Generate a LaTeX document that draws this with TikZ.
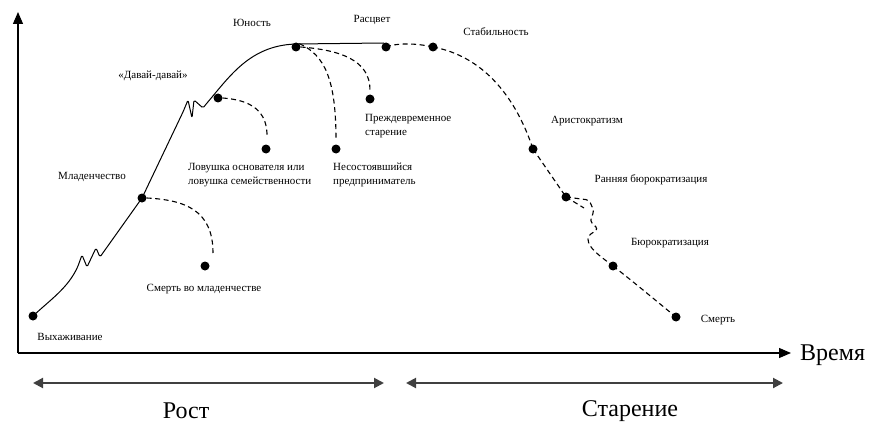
\documentclass[tikz,border=0pt]{standalone}
\usepackage{fontspec}
\setmainfont{Liberation Serif}
\usetikzlibrary{arrows.meta}
\tikzset{
  dot/.style={circle,fill=black,inner sep=0pt,minimum size=9pt},
  lbl/.style={inner sep=0pt,font=\fontsize{11}{14.5}\selectfont},
  lbll/.style={lbl,align=left,anchor=west},
  big/.style={inner sep=0pt,font=\fontsize{24}{28}\selectfont},
  solidcurve/.style={line width=1pt},
  dashcurve/.style={line width=1.1pt,dash pattern=on 5pt off 3.5pt},
  axis/.style={line width=1.1pt,-{Triangle[length=12pt,width=10pt]}},
  span/.style={line width=2pt,draw=black!75,{Triangle[length=10pt,width=10pt]}-{Triangle[length=10pt,width=10pt]}}
}
\begin{document}
\begin{tikzpicture}[x=1pt,y=-1pt]
\useasboundingbox (0,0) rectangle (869,425);
% axes
\coordinate (origin) at (18,353);
\coordinate (ytop) at (18,12);
\coordinate (xend) at (791,353);
\draw[axis] (origin) -- (ytop);
\draw[axis] (origin) -- (xend);
\node[big,anchor=west] (vremya) at (800,355) {Время};
% phase spans
\coordinate (r1) at (33,383);
\coordinate (r2) at (384,383);
\coordinate (s1) at (406,383);
\coordinate (s2) at (783,383);
\draw[span] (r1) -- (r2);
\draw[span] (s1) -- (s2);
\node[big] (rost) at (186,411) {Рост};
\node[big] (star) at (630,411) {Старение};
% dots
\node[dot] (vyh) at (33,316) {};
\node[dot] (mlad) at (142,198) {};
\node[dot] (smmlad) at (205,266) {};
\node[dot] (davai) at (218,98) {};
\node[dot] (lov) at (266,149) {};
\node[dot] (yun) at (296,47) {};
\node[dot] (nesost) at (336,149) {};
\node[dot] (prezh) at (370,99) {};
\node[dot] (rasc) at (386,47) {};
\node[dot] (stab) at (433,47) {};
\node[dot] (arist) at (533,149) {};
\node[dot] (ranbur) at (566,197) {};
\node[dot] (bur) at (613,266) {};
\node[dot] (smert) at (676,317) {};
% labels
\node[lbl] (tvyh) at (70,337) {Выхаживание};
\node[lbl] (tmlad) at (92,177) {Младенчество};
\node[lbl] (tsmmlad) at (204,289) {Смерть во младенчестве};
\node[lbl] (tdavai) at (153,76) {«Давай-давай»};
\node[lbll] (tlov) at (188,175) {Ловушка основателя или\\ловушка семейственности};
\node[lbl] (tyun) at (252,23) {Юность};
\node[lbll] (tnesost) at (333,175) {Несостоявшийся\\предприниматель};
\node[lbll] (tprezh) at (365,126) {Преждевременное\\старение};
\node[lbl] (trasc) at (372,20) {Расцвет};
\node[lbl] (tstab) at (496,32) {Стабильность};
\node[lbl] (tarist) at (587,121) {Аристократизм};
\node[lbl] (tranbur) at (651,180) {Ранняя бюрократизация};
\node[lbl] (tbur) at (670,243) {Бюрократизация};
\node[lbl] (tsmert) at (718,320) {Смерть};
% growth curve
\draw[solidcurve,line join=round,rounded corners=1.5pt] (vyh.center) .. controls (50,300) and (68,288) .. (78,266)
  -- (82,255) -- (87,267) -- (96,248) -- (100,257)
  -- (mlad.center)
  -- (183,112) -- (188,100) -- (192,118) -- (194,100)
  -- (203,108) -- (207,103)
  .. controls (230,76) and (250,46) .. (296,44) -- (384,43);
% failure branches
\draw[dashcurve] (mlad.east) .. controls (185,200) and (213,210) .. (213,253);
\draw[dashcurve] (davai.east) .. controls (250,100) and (268,110) .. (267,138);
\draw[dashcurve] (yun.north east) .. controls (325,55) and (336,80) .. (336,140);
\draw[dashcurve] (yun.east) .. controls (340,50) and (370,60) .. (370,90);
% aging curve
\draw[dashcurve] (384,44) -- (rasc.center);
\draw[dashcurve] (rasc.center) .. controls (400,42) and (420,44) .. (stab.center);
\draw[dashcurve] (stab.center) .. controls (482,56) and (515,95) .. (arist.center);
\draw[dashcurve] (arist.center) -- (ranbur.center);
\draw[dashcurve,rounded corners=3pt] (ranbur.center) -- (589,200) -- (594,211) -- (590,221) -- (598,229) -- (588,236)
  .. controls (588,248) and (600,256) .. (bur.center);
\draw[dashcurve] (ranbur.center) -- (584,208);
\draw[dashcurve] (bur.center) .. controls (635,283) and (655,300) .. (smert.center);
\end{tikzpicture}
\end{document}
